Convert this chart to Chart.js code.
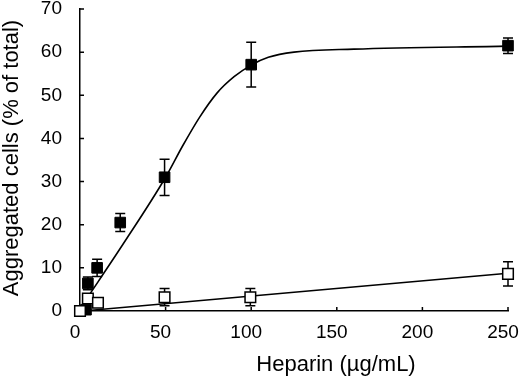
<!DOCTYPE html>
<html lang="en">
<head>
<meta charset="UTF-8">
<title>Heparin-induced aggregation</title>
<script src="https://cdn.jsdelivr.net/npm/chart.js"></script>
<style>
  html, body { margin: 0; padding: 0; background: #fff; }
  #wrap { width: 520px; height: 376px; }
</style>
</head>
<body>
<div id="wrap"><canvas id="chart" width="520" height="376"></canvas></div>
<script>
// heparin (ug/mL) vs aggregated cells (% of total)
const filledX = [3.5, 4.6, 10, 23.5, 49.4, 100, 250];
const filledY = [0.3, 6.4, 10.0, 20.5, 31.0, 57.1, 61.5];
const filledErr = [0, 1.5, 2.0, 2.1, 4.2, 5.2, 1.8];

const openX = [0, 4.6, 10.5, 49.4, 99.5, 250];
const openY = [0, 2.9, 1.9, 3.2, 3.2, 8.6];
const openErr = [0, 1.0, 0.5, 2.0, 2.0, 2.8];

// fitted curves
const fitFilledX = [3, 25, 50, 60, 70, 80, 90, 100, 110, 125, 160, 250];
const fitFilledY = [2.3, 15.4, 31.0, 38.3, 45.0, 50.5, 54.3, 57.0, 58.8, 60.0, 60.7, 61.4];
const fitOpenX = [5, 250];
const fitOpenY = [0.1, 8.75];

const xTicks = [0, 50, 100, 150, 200, 250];
const yTicks = [0, 10, 20, 30, 40, 50, 60, 70];

const FONT = "'Liberation Sans', Arial, Helvetica, sans-serif";

function pts(xs, ys) {
    return xs.map((x, i) => ({ x: x, y: ys[i] }));
}

// error bars, drawn under the markers
const errorBars = {
    id: 'errorBars',
    beforeDatasetsDraw(chart) {
        const { ctx, scales: { x, y } } = chart;
        ctx.save();
        ctx.strokeStyle = '#000';
        ctx.lineWidth = 1.5;
        [[filledX, filledY, filledErr], [openX, openY, openErr]].forEach(([xs, ys, es]) => {
            xs.forEach((v, i) => {
                if (!es[i]) return;
                const px = x.getPixelForValue(v);
                const top = y.getPixelForValue(ys[i] + es[i]);
                const bot = y.getPixelForValue(ys[i] - es[i]);
                ctx.beginPath();
                ctx.moveTo(px, top); ctx.lineTo(px, bot);
                ctx.moveTo(px - 5, top); ctx.lineTo(px + 5, top);
                ctx.moveTo(px - 5, bot); ctx.lineTo(px + 5, bot);
                ctx.stroke();
            });
        });
        ctx.restore();
    }
};

// small inward tick marks + axis titles
const axisDecor = {
    id: 'axisDecor',
    beforeDatasetsDraw(chart) {
        const { ctx, scales: { x, y }, chartArea } = chart;
        ctx.save();
        ctx.strokeStyle = '#000';
        ctx.lineWidth = 1.5;
        ctx.beginPath();
        yTicks.slice(1).forEach(v => {
            const py = y.getPixelForValue(v);
            ctx.moveTo(chartArea.left, py); ctx.lineTo(chartArea.left + 4, py);
        });
        xTicks.slice(1).forEach(v => {
            const px = x.getPixelForValue(v);
            ctx.moveTo(px, chartArea.bottom); ctx.lineTo(px, chartArea.bottom - 4);
        });
        ctx.stroke();
        ctx.restore();
    },
    afterDraw(chart) {
        const ctx = chart.ctx;
        ctx.save();
        ctx.fillStyle = '#000';
        ctx.font = '22px ' + FONT;
        ctx.textAlign = 'center';
        ctx.textBaseline = 'alphabetic';
        ctx.fillText('Heparin (µg/mL)', 336, 370.5);
        ctx.translate(17.5, 158);
        ctx.rotate(-Math.PI / 2);
        ctx.fillText('Aggregated cells (% of total)', 0, 0);
        ctx.restore();
    }
};

const markerBase = {
    showLine: false,
    pointStyle: 'rect',
    pointRadius: 7.5,
    pointHoverRadius: 7.5,
    borderColor: '#000',
    clip: false
};

new Chart(document.getElementById('chart'), {
    type: 'scatter',
    data: {
        datasets: [
            Object.assign({}, markerBase, {
                label: 'open',
                data: pts(openX, openY),
                backgroundColor: '#fff',
                borderWidth: 1.5
            }),
            Object.assign({}, markerBase, {
                label: 'filled',
                data: pts(filledX, filledY),
                backgroundColor: '#000',
                borderWidth: 1
            }),
            {
                label: 'fit filled',
                data: pts(fitFilledX, fitFilledY),
                showLine: true,
                pointRadius: 0,
                borderColor: '#000',
                borderWidth: 1.6,
                cubicInterpolationMode: 'monotone',
                clip: false
            },
            {
                label: 'fit open',
                data: pts(fitOpenX, fitOpenY),
                showLine: true,
                pointRadius: 0,
                borderColor: '#000',
                borderWidth: 1.6,
                clip: false
            }
        ]
    },
    options: {
        responsive: false,
        animation: false,
        events: [],
        layout: { padding: { top: 9, right: 12, left: 0, bottom: 0 } },
        plugins: {
            legend: { display: false },
            tooltip: { enabled: false }
        },
        scales: {
            x: {
                type: 'linear',
                min: 0,
                max: 250,
                afterBuildTicks: s => { s.ticks = xTicks.map(v => ({ value: v })); },
                afterFit: s => { s.height = 65; s.paddingLeft = 0; s.paddingRight = 0; },
                grid: { display: false, drawTicks: false },
                border: { color: '#000', width: 1.5 },
                ticks: { color: '#000', font: { family: FONT, size: 19 }, padding: 10, maxRotation: 0, labelOffset: -5 }
            },
            y: {
                type: 'linear',
                min: 0,
                max: 70,
                afterBuildTicks: s => { s.ticks = yTicks.map(v => ({ value: v })); },
                afterFit: s => { s.width = 80; s.paddingTop = 0; s.paddingBottom = 0; },
                grid: { display: false, drawTicks: false },
                border: { color: '#000', width: 1.5 },
                ticks: { color: '#000', font: { family: FONT, size: 19 }, padding: 18 }
            }
        }
    },
    plugins: [errorBars, axisDecor]
});
</script>
</body>
</html>
